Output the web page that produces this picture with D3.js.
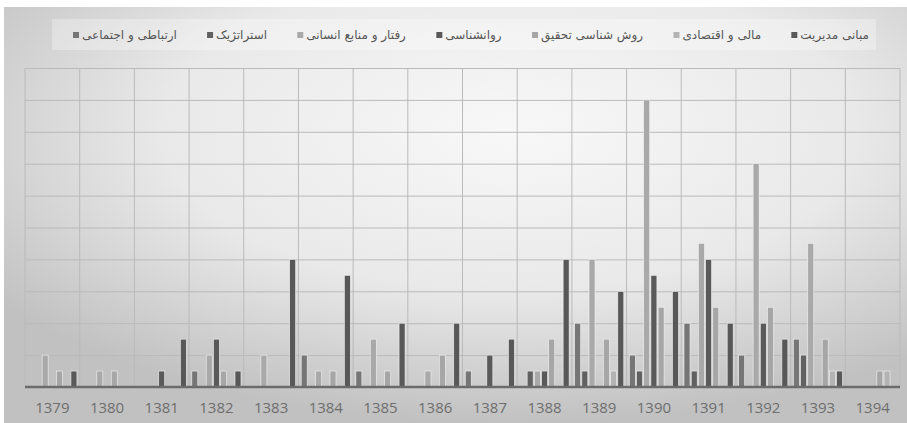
<!DOCTYPE html>
<html>
<head>
<meta charset="utf-8">
<script src="https://cdn.jsdelivr.net/npm/d3@7"></script>
<style>
  body { margin: 0; background: #fff; }
  svg { display: block; }
</style>
</head>
<body>
<svg id="chart"></svg>
<script>
const W = 907, H = 423;

const years = ['1379','1380','1381','1382','1383','1384','1385','1386','1387','1388','1389','1390','1391','1392','1393','1394'];

// series in drawing order (left to right in each group)
const seriesNames = ['ارتباطی و اجتماعی', 'استراتژیک', 'رفتار و منابع انسانی', 'روانشناسی', 'روش شناسی تحقیق', 'مالی و اقتصادی', 'مبانی مدیریت'];
const seriesColors = ['#767676', '#616161', '#a9a9a9', '#5a5a5a', '#a6a6a6', '#b3b3b3', '#585858'];

const ertebati    = [0, 0, 0, 1, 0, 2, 1, 0, 1, 0, 4, 2, 4, 2, 3, 0];
const strategic   = [0, 0, 0, 0, 0, 0, 0, 0, 0, 1, 1, 1, 1, 0, 2, 0];
const raftar      = [2, 1, 0, 2, 2, 1, 3, 1, 0, 1, 8, 18, 9, 14, 9, 0];
const ravanshenasi= [0, 0, 1, 3, 0, 0, 0, 0, 2, 1, 0, 7, 8, 4, 0, 0];
const ravesh      = [1, 1, 0, 1, 0, 1, 1, 2, 0, 3, 3, 5, 5, 5, 3, 1];
const mali        = [0, 0, 0, 0, 0, 0, 0, 0, 0, 0, 1, 0, 0, 0, 1, 1];
const mabani      = [1, 0, 3, 1, 8, 7, 4, 4, 3, 8, 6, 6, 4, 3, 1, 0];
const seriesValues = [ertebati, strategic, raftar, ravanshenasi, ravesh, mali, mabani];

const yMax = 20, yStep = 2;

const svg = d3.select('#chart').attr('width', W).attr('height', H);
const defs = svg.append('defs');

const bg = defs.append('radialGradient').attr('id', 'bg')
  .attr('cx', 0.56).attr('cy', 0.3).attr('r', 0.7);
bg.append('stop').attr('offset', '0%').attr('stop-color', '#f8f8f8');
bg.append('stop').attr('offset', '55%').attr('stop-color', '#e9e9e9');
bg.append('stop').attr('offset', '100%').attr('stop-color', '#c1c1c1');

svg.append('rect').attr('x', 0).attr('y', 0).attr('width', W).attr('height', H).attr('fill', '#fff');
svg.append('rect').attr('x', 4).attr('y', 7).attr('width', W - 4).attr('height', H - 7).attr('fill', 'url(#bg)');

const plotLeft = 25, plotRight = 900, plotTop = 68, plotBottom = 387;

const x0 = d3.scaleBand().domain(years).range([plotLeft, plotRight]).paddingInner(0).paddingOuter(0);
const x1 = d3.scaleBand().domain(d3.range(seriesNames.length)).range([0, x0.bandwidth()]).paddingInner(0).paddingOuter(0.3);
const y = d3.scaleLinear().domain([0, yMax]).range([plotBottom, plotTop]);

// horizontal gridlines
const grid = svg.append('g').attr('class', 'grid');
grid.selectAll('line.h')
  .data(d3.range(yStep, yMax + 1, yStep))
  .enter().append('line')
  .attr('class', 'h')
  .attr('x1', plotLeft).attr('x2', plotRight)
  .attr('y1', d => y(d) + 0.5).attr('y2', d => y(d) + 0.5)
  .attr('stroke', '#bababa').attr('stroke-width', 1);

// vertical gridlines at category boundaries
grid.selectAll('line.v')
  .data(years.concat(['end']))
  .enter().append('line')
  .attr('class', 'v')
  .attr('x1', d => d === 'end' ? plotRight : x0(d))
  .attr('x2', d => d === 'end' ? plotRight : x0(d))
  .attr('y1', plotTop).attr('y2', plotBottom)
  .attr('stroke', '#bababa').attr('stroke-width', 1);

// bars
const groups = svg.append('g').selectAll('g')
  .data(years)
  .enter().append('g')
  .attr('transform', d => 'translate(' + x0(d) + ',0)');

groups.selectAll('rect')
  .data((yr, i) => seriesValues.map((vals, s) => ({ s: s, v: vals[i] })).filter(d => d.v > 0))
  .enter().append('rect')
  .attr('x', d => x1(d.s) + 0.6)
  .attr('y', d => y(d.v))
  .attr('width', x1.bandwidth() - 1.2)
  .attr('height', d => plotBottom - y(d.v))
  .attr('fill', d => seriesColors[d.s])
  .attr('stroke', '#f2f2f2').attr('stroke-width', 0.6);

// category axis
const xAxis = d3.axisBottom(x0).tickSize(0).tickPadding(15);
const ax = svg.append('g')
  .attr('transform', 'translate(0,' + plotBottom + ')')
  .call(xAxis);
ax.select('.domain').remove();
ax.selectAll('.tick text')
  .attr('fill', '#6e6e6e')
  .style('font-family', '"Open Sans", sans-serif')
  .style('font-size', '15px');

svg.append('line')
  .attr('x1', plotLeft).attr('x2', plotRight)
  .attr('y1', plotBottom).attr('y2', plotBottom)
  .attr('stroke', '#6b6b6b').attr('stroke-width', 2.5);

// legend
const legendBox = { x: 52, y: 19, w: 824, h: 31 };
svg.append('rect')
  .attr('x', legendBox.x).attr('y', legendBox.y)
  .attr('width', legendBox.w).attr('height', legendBox.h)
  .attr('fill', '#ffffff').attr('fill-opacity', 0.3);

const legend = svg.append('g').attr('class', 'legend');
const items = legend.selectAll('g')
  .data(seriesNames)
  .enter().append('g');

items.append('rect')
  .attr('width', 6).attr('height', 6)
  .attr('y', 32)
  .attr('fill', (d, i) => seriesColors[i]);

items.append('text')
  .attr('y', 39)
  .attr('fill', '#555')
  .style('font-family', '"DejaVu Sans", sans-serif')
  .style('font-size', '12px')
  .attr('text-anchor', 'start')
  .text(d => d);

const legendStart = 73, legendEnd = 869;
const widths = [];
items.each(function() { widths.push(d3.select(this).select('text').node().getBBox().width); });
const markerGap = 3;
const totalW = d3.sum(widths) + widths.length * (6 + markerGap);
const gap = (legendEnd - legendStart - totalW) / (widths.length - 1);
let cx = legendStart;
items.each(function(d, i) {
  const g = d3.select(this);
  g.select('rect').attr('x', cx);
  g.select('text').attr('x', cx + 6 + markerGap);
  cx += 6 + markerGap + widths[i] + gap;
});
</script>
</body>
</html>
